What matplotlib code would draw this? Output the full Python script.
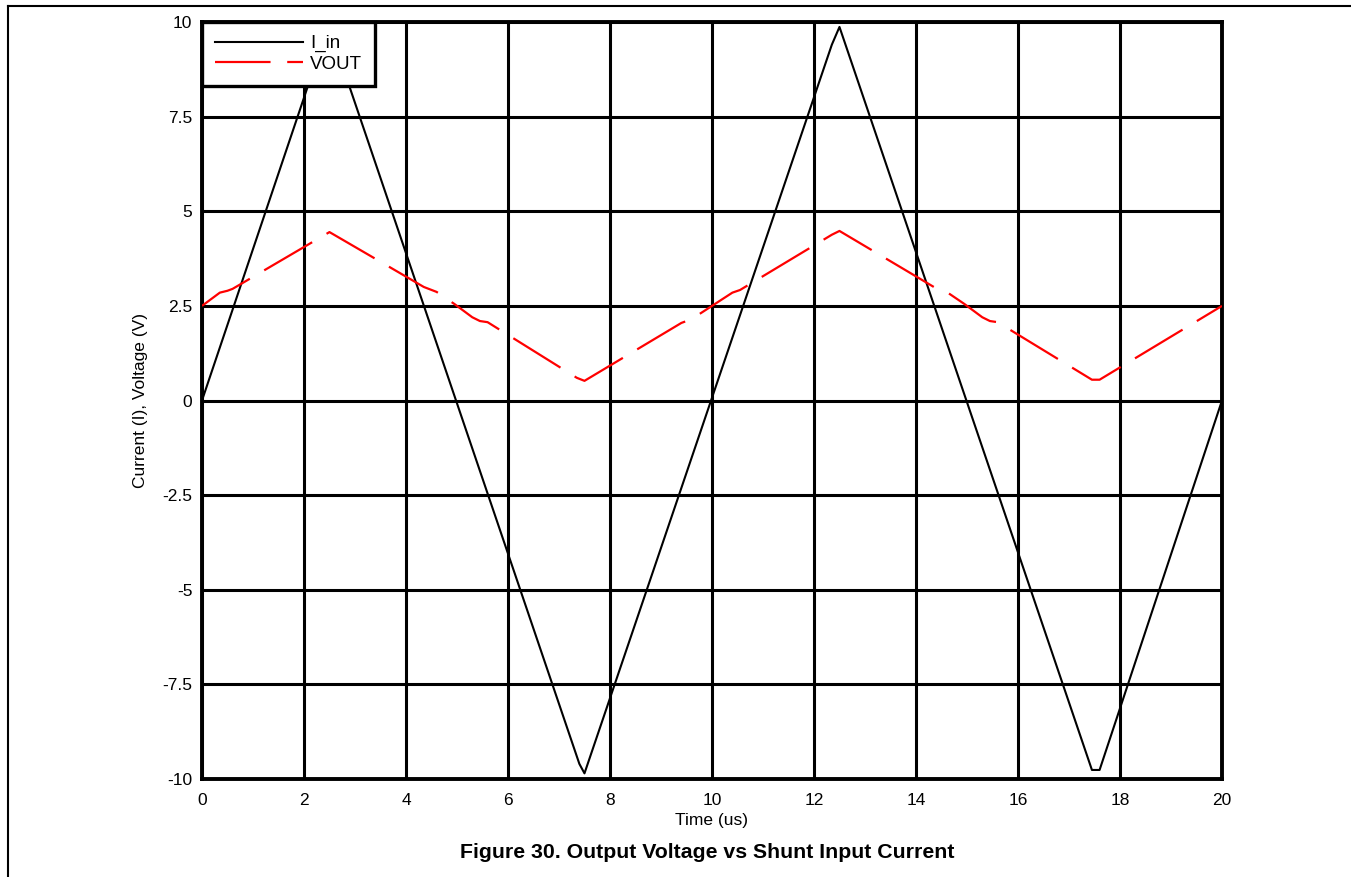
import numpy as np
import matplotlib
matplotlib.use("Agg")
import matplotlib.pyplot as plt
from matplotlib.lines import Line2D

plt.rcParams['font.family'] = ['Liberation Sans', 'DejaVu Sans']

# input current (triangle), time in us
t_iin = [0, 2.4, 2.5, 7.4, 7.5, 12.35, 12.5, 17.45, 17.6, 20]
iin = [0, 9.6, 9.85, -9.6, -9.85, 9.4, 9.87, -9.76, -9.76, 0]

# output voltage
t_vout = [0, 0.35, 0.5, 0.6, 2.5, 4.35, 4.6, 4.95, 5.3, 5.45, 5.6, 7.35, 7.5,
          9.4, 9.6, 10.0, 10.4, 10.55, 12.35, 12.5, 14.35, 14.6, 14.95, 15.3,
          15.45, 15.6, 17.45, 17.6, 20]
vout = [2.5, 2.85, 2.9, 2.95, 4.45, 3.0, 2.87, 2.55, 2.2, 2.1, 2.07, 0.6, 0.52,
        2.05, 2.15, 2.5, 2.85, 2.92, 4.38, 4.48, 3.0, 2.87, 2.55, 2.2,
        2.1, 2.07, 0.55, 0.55, 2.5]

xticks = [0, 2, 4, 6, 8, 10, 12, 14, 16, 18, 20]
yticks = [-10, -7.5, -5, -2.5, 0, 2.5, 5, 7.5, 10]
ytick_labels = ['-10', '-7.5', '-5', '-2.5', '0', '2.5', '5', '7.5', '10']

fig = plt.figure(figsize=(13.51, 8.77), dpi=100)
ax = fig.add_axes([0.1495, 0.1117, 0.755, 0.8632])

ax.plot(t_iin, iin, color='black', lw=1.5, label='I_in', zorder=3)
ax.plot(t_vout, vout, color='#ff0000', lw=1.6, dashes=(25, 7.5), label='VOUT', zorder=3)

ax.set_xlim(0, 20)
ax.set_ylim(-10, 10)
ax.set_xticks(xticks)
ax.set_yticks(yticks)
ax.set_yticklabels(ytick_labels)
ax.tick_params(length=0, labelsize=12.5)
ax.tick_params(axis='x', pad=10)
ax.tick_params(axis='y', pad=7)
ax.grid(True, color='black', lw=2.2, zorder=1)
ax.set_axisbelow(True)
for s in ax.spines.values():
    s.set_linewidth(2.8)

ax.set_xlabel('Time (us)', fontsize=12.5, labelpad=4)
ax.set_ylabel('Current (I), Voltage (V)', fontsize=12.5, labelpad=10)

leg = ax.legend(loc='upper left', fontsize=13.5, fancybox=False, framealpha=1,
                borderaxespad=0, handlelength=4.7, handletextpad=0.35,
                borderpad=0.7, labelspacing=0.18)
leg.get_frame().set_edgecolor('black')
leg.get_frame().set_linewidth(2.4)

fig.text(0.5235, 0.0275, 'Figure 30. Output Voltage vs Shunt Input Current',
         ha='center', va='center', fontsize=15.3, fontweight='bold')

# partial page border (top and left)
fig.add_artist(Line2D([8 / 1351, 1], [1 - 6 / 877, 1 - 6 / 877], color='black', lw=1.5,
                      transform=fig.transFigure))
fig.add_artist(Line2D([8 / 1351, 8 / 1351], [0, 1 - 6 / 877], color='black', lw=1.5,
                      transform=fig.transFigure))

fig.savefig('out.png', dpi=100)
